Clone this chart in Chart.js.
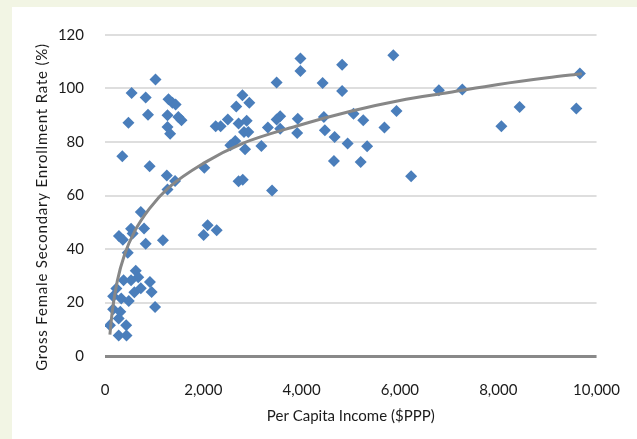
<!DOCTYPE html>
<html>
<head>
<meta charset="utf-8">
<script src="https://cdn.jsdelivr.net/npm/chart.js@4"></script>
<style>
    html, body { margin: 0; padding: 0; background: #f2f5e4; }
    #wrap { position: absolute; left: 0; top: 0; width: 637px; height: 439px; }
</style>
</head>
<body>
<div id="wrap"><canvas id="enrollChart" width="637" height="439"></canvas></div>
<script>
// --- data ---
const incomeX = [
    729, 284, 364, 530, 562, 795, 828, 1179, 463, 626, 676, 530, 378, 232, 165,
    331, 483, 597, 729, 914, 948, 1019, 165, 311, 278, 100, 431, 278, 437,
    1027, 542, 828, 1292, 1372, 1437, 875, 1272, 1491, 1556, 477, 1272, 1325, 352,
    908, 1258, 1425, 1272, 2021,
    3976, 3976, 3492, 2796, 2936, 2670, 2498, 2252, 2352, 2717, 2883, 2828, 2916,
    3564, 3492, 3564, 3313, 3922, 3910, 2650, 2550, 2849, 3181, 2717, 2802, 3399,
    2088, 2007, 2272,
    5865, 4824, 4427, 4824, 6792, 4453, 5055, 5254, 5930, 5685, 4473, 4672, 4936,
    5333, 4658, 5202, 6228, 7269, 9661, 9588, 8435, 8064
];
const enrollY = [
    53.8, 44.9, 43.5, 47.6, 45.8, 47.7, 42.0, 43.3, 38.6, 31.9, 29.4, 28.3, 28.3, 25.2, 22.3,
    21.5, 20.6, 23.8, 25.3, 27.7, 23.9, 18.3, 17.5, 16.5, 14.0, 11.5, 11.5, 7.7, 7.7,
    103.4, 98.3, 96.6, 96.0, 94.7, 94.0, 90.2, 90.0, 89.3, 88.1, 87.2, 85.6, 83.1, 74.7,
    70.9, 67.5, 65.4, 62.2, 70.4,
    111.2, 106.5, 102.2, 97.5, 94.7, 93.3, 88.4, 85.9, 85.9, 86.9, 87.9, 83.7, 83.7,
    89.6, 88.4, 85.0, 85.4, 88.7, 83.4, 80.4, 78.8, 77.3, 78.5, 65.3, 65.9, 61.9,
    48.9, 45.2, 47.0,
    112.4, 108.9, 102.1, 99.1, 99.3, 89.3, 90.6, 88.1, 91.6, 85.4, 84.4, 81.9, 79.4,
    78.4, 72.9, 72.5, 67.2, 99.6, 105.6, 92.5, 93.1, 85.9
];
// grey trend curve
const trendX = [100, 150, 250, 400, 600, 900, 1300, 2000, 2800, 3900, 5000, 6000, 7000, 8000, 9000, 9700];
const trendY = [8, 17, 28, 38, 46.5, 55, 63, 72, 79.5, 86, 91.5, 95.5, 98.5, 101.5, 104, 105.5];

const xTickValues = [0, 2000, 4000, 6000, 8000, 10000];
const yTickValues = [0, 20, 40, 60, 80, 100, 120];

const yTitle = 'Gross Female Secondary Enrollment Rate (%)';
const textColor = '#1b1b1b';
const fontFamily = 'Lato, "Open Sans", sans-serif';

// cream frame + white panel behind the chart
const panelBg = {
    id: 'panelBg',
    beforeDraw(chart) {
        const c = chart.ctx;
        c.save();
        c.fillStyle = '#f2f5e4';
        c.fillRect(0, 0, chart.width, chart.height);
        c.fillStyle = '#ffffff';
        c.fillRect(12, 7, chart.width - 12, chart.height - 7);
        c.restore();
    }
};

// vertical axis title, drawn by hand so it can be letter-spaced like the original
const yTitlePlugin = {
    id: 'yTitle',
    afterDraw(chart) {
        const c = chart.ctx;
        c.save();
        c.translate(42, 207);
        c.rotate(-Math.PI / 2);
        c.font = '15px ' + fontFamily;
        c.letterSpacing = '0.8px';
        c.fillStyle = textColor;
        c.textAlign = 'center';
        c.textBaseline = 'middle';
        c.fillText(yTitle, 0, 0);
        c.restore();
    }
};

const ctx = document.getElementById('enrollChart').getContext('2d');
new Chart(ctx, {
    type: 'scatter',
    data: {
        datasets: [
            {
                label: 'Trend',
                data: trendX.map((x, i) => ({ x: x, y: trendY[i] })),
                showLine: true,
                borderColor: '#878787',
                borderWidth: 3,
                pointRadius: 0,
                tension: 0.4,
                cubicInterpolationMode: 'monotone',
                fill: false
            },
            {
                label: 'Countries',
                data: incomeX.map((x, i) => ({ x: x, y: enrollY[i] })),
                pointStyle: 'rectRot',
                pointRadius: 6,
                pointBackgroundColor: '#4a7ebb',
                pointBorderWidth: 0,
                showLine: false
            }
        ]
    },
    options: {
        responsive: false,
        animation: false,
        layout: { padding: { left: 0, top: 35, right: 29, bottom: 0 } },
        plugins: { legend: { display: false }, tooltip: { enabled: false } },
        scales: {
            x: {
                type: 'linear',
                min: 0,
                max: 10000,
                afterBuildTicks: (s) => { s.ticks = xTickValues.map(v => ({ value: v })); },
                afterFit: (s) => { s.height = 83; },
                grid: { display: false },
                border: { display: false },
                ticks: {
                    padding: 17,
                    color: textColor,
                    font: { family: fontFamily, size: 15 },
                    callback: (v) => v.toLocaleString('en-US')
                },
                title: {
                    display: true,
                    text: 'Per Capita Income ($PPP)',
                    color: textColor,
                    font: { family: fontFamily, size: 15 },
                    padding: { top: 0, bottom: 14 }
                }
            },
            y: {
                type: 'linear',
                min: 0,
                max: 120,
                afterBuildTicks: (s) => { s.ticks = yTickValues.map(v => ({ value: v })); },
                afterFit: (s) => { s.width = 105; },
                grid: {
                    drawTicks: false,
                    color: (c) => c.tick && c.tick.value === 0 ? '#898989' : '#dedede',
                    lineWidth: (c) => c.tick && c.tick.value === 0 ? 3 : 2
                },
                border: { display: false },
                ticks: {
                    padding: 21,
                    color: textColor,
                    font: { family: fontFamily, size: 15 }
                }
            }
        }
    },
    plugins: [panelBg, yTitlePlugin]
});
</script>
</body>
</html>
